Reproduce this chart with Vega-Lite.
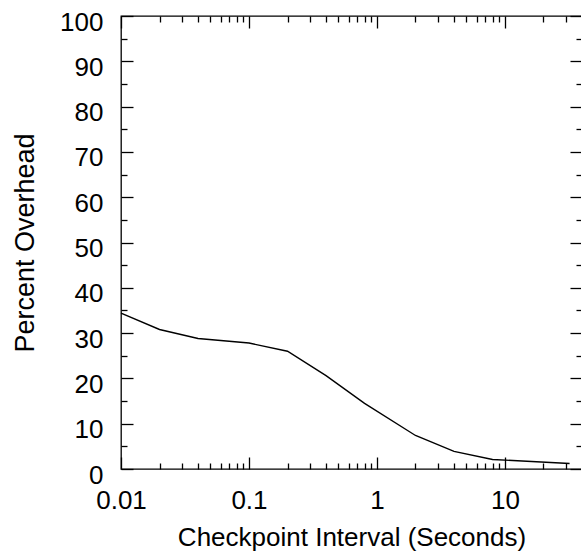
{
  "$schema": "https://vega.github.io/schema/vega-lite/v6.json",
  "width": 461,
  "height": 453,
  "autosize": "none",
  "padding": {"left": 121, "top": 16, "right": 0, "bottom": 83},
  "background": "white",
  "config": {
    "view": {"stroke": "black", "strokeWidth": 1.3},
    "axis": {
      "labelFont": "Liberation Sans",
      "titleFont": "Liberation Sans",
      "labelFontSize": 26,
      "titleFontSize": 26,
      "titleFontWeight": "normal",
      "labelColor": "black",
      "titleColor": "black",
      "tickColor": "black",
      "tickWidth": 1.3,
      "labelFlush": false,
      "labelOverlap": false,
      "domain": false,
      "grid": false
    }
  },
  "data": {
    "values": [
      {"interval": 0.01, "overhead": 34.4},
      {"interval": 0.02, "overhead": 30.8},
      {"interval": 0.04, "overhead": 28.8},
      {"interval": 0.1, "overhead": 27.8},
      {"interval": 0.2, "overhead": 26.0},
      {"interval": 0.4, "overhead": 20.6},
      {"interval": 0.8, "overhead": 14.5},
      {"interval": 2, "overhead": 7.4},
      {"interval": 4, "overhead": 3.9},
      {"interval": 8, "overhead": 2.1},
      {"interval": 32, "overhead": 1.2}
    ]
  },
  "layer": [
    {
      "mark": {"type": "line", "color": "black", "strokeWidth": 1.4},
      "encoding": {
        "x": {
          "field": "interval", "type": "quantitative",
          "scale": {"type": "log", "domain": [0.01, 40], "nice": false},
          "axis": {
            "orient": "bottom", "values": [0.01, 0.1, 1, 10], "format": "~g",
            "tickSize": 12, "offset": -12, "labelPadding": 18,
            "title": "Checkpoint Interval (Seconds)", "titlePadding": 11
          }
        },
        "y": {
          "field": "overhead", "type": "quantitative",
          "scale": {"domain": [0, 100], "nice": false},
          "axis": {
            "orient": "left", "values": [0, 10, 20, 30, 40, 50, 60, 70, 80, 90, 100],
            "tickSize": 12, "offset": -12, "labelPadding": 18, "labelOffset": 6,
            "title": "Percent Overhead", "titleFontSize": 27, "titlePadding": 20
          }
        }
      }
    },
    {
      "mark": {"type": "line", "opacity": 0},
      "encoding": {
        "x": {
          "field": "interval", "type": "quantitative",
          "axis": {
            "orient": "bottom",
            "values": [0.02, 0.03, 0.04, 0.05, 0.06, 0.07, 0.08, 0.09, 0.2, 0.3, 0.4, 0.5, 0.6, 0.7, 0.8, 0.9, 2, 3, 4, 5, 6, 7, 8, 9, 20, 30],
            "tickSize": 6, "offset": -6, "labels": false, "title": null
          }
        },
        "y": {
          "field": "overhead", "type": "quantitative",
          "axis": {
            "orient": "left", "values": [5, 15, 25, 35, 45, 55, 65, 75, 85, 95],
            "tickSize": 6, "offset": -6, "labels": false, "title": null
          }
        }
      }
    },
    {
      "mark": {"type": "line", "opacity": 0},
      "encoding": {
        "x": {
          "field": "interval", "type": "quantitative",
          "axis": {
            "orient": "top", "values": [0.01, 0.1, 1, 10],
            "tickSize": 12, "offset": -12, "labels": false, "title": null
          }
        },
        "y": {
          "field": "overhead", "type": "quantitative",
          "axis": {
            "orient": "right", "values": [0, 10, 20, 30, 40, 50, 60, 70, 80, 90, 100],
            "tickSize": 12, "offset": -12, "labels": false, "title": null
          }
        }
      }
    },
    {
      "mark": {"type": "line", "opacity": 0},
      "encoding": {
        "x": {
          "field": "interval", "type": "quantitative",
          "axis": {
            "orient": "top",
            "values": [0.02, 0.03, 0.04, 0.05, 0.06, 0.07, 0.08, 0.09, 0.2, 0.3, 0.4, 0.5, 0.6, 0.7, 0.8, 0.9, 2, 3, 4, 5, 6, 7, 8, 9, 20, 30],
            "tickSize": 6, "offset": -6, "labels": false, "title": null
          }
        },
        "y": {
          "field": "overhead", "type": "quantitative",
          "axis": {
            "orient": "right", "values": [5, 15, 25, 35, 45, 55, 65, 75, 85, 95],
            "tickSize": 6, "offset": -6, "labels": false, "title": null
          }
        }
      }
    }
  ],
  "resolve": {"axis": {"x": "independent", "y": "independent"}}
}
